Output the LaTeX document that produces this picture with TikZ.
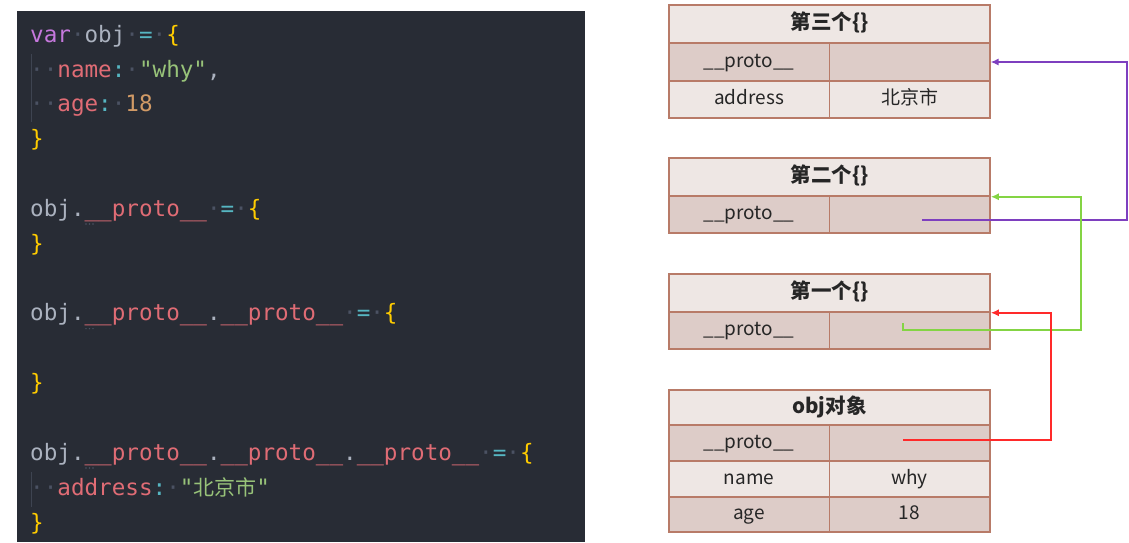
\documentclass[tikz,border=0pt]{standalone}
\usepackage{fontspec}
\usetikzlibrary{arrows.meta,calc}
\newfontfamily\cjk{Noto Sans CJK SC}
\newfontfamily\codefont{DejaVu Sans Mono}
\definecolor{codebg}{HTML}{282C35}
\definecolor{ckwc}{HTML}{C678DD}
\definecolor{cplc}{HTML}{ABB2BF}
\definecolor{copc}{HTML}{56B6C2}
\definecolor{cbrc}{HTML}{FFCC00}
\definecolor{cprc}{HTML}{E06C75}
\definecolor{cstrc}{HTML}{98C379}
\definecolor{cnumc}{HTML}{D19A66}
\definecolor{cwsc}{HTML}{4B5263}
\definecolor{guide}{HTML}{3E4451}
\definecolor{tborder}{HTML}{B87B68}
\definecolor{tlight}{HTML}{EEE7E4}
\definecolor{tdark}{HTML}{DDCCC8}
\definecolor{apurple}{HTML}{7E3FBF}
\definecolor{agreen}{HTML}{84D444}
\definecolor{ared}{HTML}{FF2A2A}
\newcommand\ckw[1]{\textcolor{ckwc}{#1}}
\newcommand\cpl[1]{\textcolor{cplc}{#1}}
\newcommand\cop[1]{\textcolor{copc}{#1}}
\newcommand\cbr[1]{\textcolor{cbrc}{#1}}
\newcommand\cpr[1]{\textcolor{cprc}{#1}}
\newcommand\cstr[1]{\textcolor{cstrc}{#1}}
\newcommand\cnum[1]{\textcolor{cnumc}{#1}}
\newcommand\cws{\textcolor{cwsc}{·}}
\newcommand\pp{\_\_proto\_\_}
\tikzset{
  codeline/.style={anchor=base west, inner sep=0pt, font=\codefont\fontsize{22.6}{26}\selectfont},
  cell/.style={draw=tborder, line width=1.5pt, inner sep=0pt, minimum width=160.5pt, text=black!85,
    text height=14pt, text depth=4pt, font=\cjk\fontsize{19}{21}\selectfont},
  hcell/.style={cell, minimum width=321pt, fill=tlight, text height=15pt, text depth=4pt,
    font=\cjk\bfseries\fontsize{20.5}{22}\selectfont},
  lightcell/.style={cell, fill=tlight},
  darkcell/.style={cell, fill=tdark},
  link/.style={line width=2pt, -{Latex[length=8pt,width=7pt]}},
}
\begin{document}
\begin{tikzpicture}[x=1pt,y=-1pt]
\useasboundingbox (0,0) rectangle (1129,542);
% code panel
\fill[codebg] (17,11) rectangle (585,542);
\draw[guide, line width=1pt] (31,54) -- (31,122);
\draw[guide, line width=1pt] (31,472) -- (31,507);
\node[codeline] (c1) at (30,42) {\ckw{var}\cws\cpl{obj}\cws\cop{=}\cws\cbr{\{}};
\node[codeline] (c2) at (30,77) {\cws\cws\cpr{name}\cop{:}\cws\cstr{"why"}\cpl{,}};
\node[codeline] (c3) at (30,111.7) {\cws\cws\cpr{age}\cop{:}\cws\cnum{18}};
\node[codeline] (c4) at (30,146.6) {\cbr{\}}};
\node[codeline] (c5) at (30,216.3) {\cpl{obj.}\cpr{\pp}\cws\cop{=}\cws\cbr{\{}};
\node[codeline] (c6) at (30,251.2) {\cbr{\}}};
\node[codeline] (c7) at (30,320.9) {\cpl{obj.}\cpr{\pp}\cpl{.}\cpr{\pp}\cws\cop{=}\cws\cbr{\{}};
\node[codeline] (c8) at (30,390.6) {\cbr{\}}};
\node[codeline] (c9) at (30,460.3) {\cpl{obj.}\cpr{\pp}\cpl{.}\cpr{\pp}\cpl{.}\cpr{\pp}\cws\cop{=}\cws\cbr{\{}};
\node[codeline] (c10) at (30,495.2) {\cws\cws\cpr{address}\cop{:}\cws\cstr{"{\cjk\fontsize{21}{24}\selectfont 北京市}"}};
\node[codeline] (c11) at (30,530) {\cbr{\}}};
\foreach \yy in {224,328.6,468}{
  \foreach \xx in {86,89.5,93}{\fill[cwsc] (\xx,\yy) circle (0.8pt);}
}
% table 3
\node[hcell, minimum height=38pt] (t3h) at (829.5,24) {第三个\{\}};
\node[darkcell, minimum height=38pt] (t3pk) at (749,62) {\pp};
\node[darkcell, minimum height=38pt] (t3pv) at (909.5,62) {};
\node[lightcell, minimum height=37pt] (t3ak) at (749,99.5) {address};
\node[lightcell, minimum height=37pt] (t3av) at (909.5,99.5) {北京市};
% table 2
\node[hcell, minimum height=38pt] (t2h) at (829.5,177) {第二个\{\}};
\node[darkcell, minimum height=37pt] (t2pk) at (749,214.5) {\pp};
\node[darkcell, minimum height=37pt] (t2pv) at (909.5,214.5) {};
% table 1
\node[hcell, minimum height=38pt] (t1h) at (829.5,293) {第一个\{\}};
\node[darkcell, minimum height=37pt] (t1pk) at (749,330.5) {\pp};
\node[darkcell, minimum height=37pt] (t1pv) at (909.5,330.5) {};
% obj table
\node[hcell, minimum height=35pt] (toh) at (829.5,407.5) {obj对象};
\node[darkcell, minimum height=36pt] (topk) at (749,443) {\pp};
\node[darkcell, minimum height=36pt] (topv) at (909.5,443) {};
\node[lightcell, minimum height=36pt] (tonk) at (749,479) {name};
\node[lightcell, minimum height=36pt] (tonv) at (909.5,479) {why};
\node[darkcell, minimum height=35pt] (toak) at (749,514.5) {age};
\node[darkcell, minimum height=35pt] (toav) at (909.5,514.5) {18};
% connectors
\coordinate (p0) at (922,220);
\coordinate (px) at (1127,220);
\draw[link, apurple] (p0) -- (px) |- (t3pv.east);
\coordinate (g0) at (903,323);
\coordinate (gx) at (1081,330);
\draw[link, agreen] (g0) -- (g0 |- gx) -- (gx) |- (t2h.south east);
\coordinate (r0) at (903,440);
\coordinate (rx) at (1051,440);
\draw[link, ared] (r0) -- (rx) |- (t1h.south east);
\end{tikzpicture}
\end{document}
